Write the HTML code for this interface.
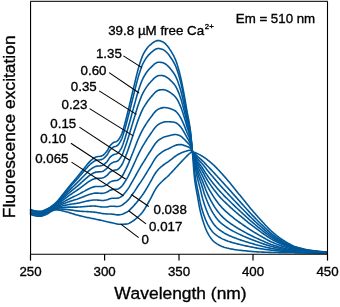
<!DOCTYPE html>
<html><head><meta charset="utf-8"><style>
html,body{margin:0;padding:0;background:#fff;width:340px;height:307px;overflow:hidden}
svg{display:block;will-change:transform}
text{font-kerning:none;font-family:"Liberation Sans",sans-serif;fill:#000;stroke:#000;stroke-width:0.35px}
</style></head><body>
<svg width="340" height="307" viewBox="0 0 340 307">
<g fill="none" stroke="#005899" stroke-width="1.6" stroke-linejoin="round">
<path d="M30,209.00 L31,209.48 L32,209.91 L33,210.29 L34,210.59 L35,210.80 L36,210.95 L37,211.09 L38,211.20 L39,211.27 L40,211.30 L41,211.23 L42,211.02 L43,210.71 L44,210.33 L45,209.90 L46,209.44 L47,209.00 L48,208.53 L49,207.98 L50,207.37 L51,206.70 L52,206.00 L53,205.24 L54,204.39 L55,203.48 L56,202.51 L57,201.50 L58,200.43 L59,199.27 L60,198.06 L61,196.80 L62,195.52 L63,194.25 L64,193.00 L65,191.76 L66,190.50 L67,189.24 L68,187.98 L69,186.73 L70,185.50 L71,184.29 L72,183.10 L73,181.92 L74,180.75 L75,179.58 L76,178.40 L77,177.21 L78,176.00 L79,174.77 L80,173.51 L81,172.24 L82,170.97 L83,169.71 L84,168.48 L85,167.27 L86,166.02 L87,164.77 L88,163.54 L89,162.39 L90,161.33 L91,160.41 L92,159.56 L93,158.74 L94,158.01 L95,157.41 L96,157.00 L97,156.75 L98,156.58 L99,156.45 L100,156.31 L101,156.12 L102,155.83 L103,155.29 L104,154.48 L105,153.47 L106,152.33 L107,151.10 L108,149.37 L109,147.42 L110,145.82 L111,144.70 L112,143.71 L113,142.90 L114,142.30 L115,141.94 L116,141.66 L117,141.24 L118,140.39 L119,139.07 L120,137.41 L121,135.50 L122,133.23 L123,130.16 L124,126.63 L125,123.00 L126,119.27 L127,115.29 L128,111.22 L129,107.14 L130,102.97 L131,98.74 L132,94.50 L133,90.30 L134,86.18 L135,81.99 L136,77.76 L137,73.65 L138,69.80 L139,66.34 L140,63.07 L141,59.97 L142,57.16 L143,54.79 L144,52.91 L145,51.21 L146,49.67 L147,48.29 L148,47.06 L149,46.00 L150,45.10 L151,44.28 L152,43.46 L153,42.69 L154,41.98 L155,41.38 L156,40.91 L157,40.61 L158,40.50 L159,40.58 L160,40.81 L161,41.14 L162,41.55 L163,42.00 L164,42.60 L165,43.44 L166,44.43 L167,45.50 L168,46.70 L169,48.08 L170,49.60 L171,51.20 L172,52.85 L173,54.59 L174,56.48 L175,58.60 L176,61.01 L177,63.88 L178,67.15 L179,70.75 L180,74.60 L181,78.84 L182,83.61 L183,88.73 L184,94.00 L185,99.54 L186,105.36 L186.5,108.27 L187,111.12 L187.5,113.79 L188,116.35 L188.5,118.92 L189,121.61 L189.5,124.54 L190,127.82 L190.5,131.61 L191,136.30 L191.5,141.68 L192,147.40 L192.5,153.16 L193,159.61 L193.5,166.47 L194,172.89 L194.5,178.00 L195,181.87 L195.5,185.23 L196,188.21 L196.5,190.96 L197,193.61 L197.5,196.31 L198,199.17 L198.5,202.09 L199,204.92 L199.5,207.50 L200,209.82 L200.5,211.99 L201,214.02 L201.5,215.93 L202,217.73 L202.5,219.44 L203,221.05 L203.5,222.60 L204,224.09 L204.5,225.54 L205,226.92 L205.5,228.20 L206,229.40 L206.5,230.53 L207,231.60 L207.5,232.60 L208,233.55 L208.5,234.46 L209,235.33 L209.5,236.15 L210,236.93 L210.5,237.66 L211,238.34 L211.5,238.99 L212,239.61 L212.5,240.19 L213,240.72 L213.5,241.20 L214,241.64 L214.5,242.06 L215,242.45 L216,243.18 L217,243.83 L218,244.43 L219,244.99 L220,245.51 L221,245.98 L222,246.40 L223,246.78 L224,247.14 L225,247.47 L226,247.76 L227,248.03 L228,248.27 L229,248.49 L230,248.70 L231,248.91 L232,249.11 L233,249.31 L234,249.49 L235,249.66 L236,249.80 L237,249.94 L238,250.06 L239,250.19 L240,250.30 L241,250.41 L242,250.52 L243,250.62 L244,250.72 L245,250.82 L246,250.91 L247,251.00 L248,251.10 L249,251.19 L250,251.28 L251,251.37 L252,251.46 L253,251.54 L254,251.62 L255,251.70 L256,251.77 L257,251.84 L258,251.90 L259,251.95 L260,252.00 L261,252.04 L262,252.09 L263,252.13 L264,252.17 L265,252.20 L266,252.24 L267,252.27 L268,252.31 L269,252.34 L270,252.37 L271,252.40 L272,252.43 L273,252.45 L274,252.48 L275,252.50 L276,252.52 L277,252.54 L278,252.56 L279,252.58 L280,252.60 L281,252.62 L282,252.63 L283,252.65 L284,252.67 L285,252.68 L286,252.70 L287,252.72 L288,252.73 L289,252.75 L290,252.76 L291,252.78 L292,252.79 L293,252.81 L294,252.82 L295,252.84 L296,252.85 L297,252.87 L298,252.88 L299,252.89 L300,252.91 L301,252.92 L302,252.93 L303,252.94 L304,252.95 L305,252.97 L306,252.98 L307,252.99 L308,253.00 L309,253.01 L310,253.02 L311,253.03 L312,253.03 L313,253.04 L314,253.05 L315,253.06 L316,253.06 L317,253.07 L318,253.08 L319,253.08 L320,253.08 L321,253.09 L322,253.09 L323,253.09 L324,253.10 L325,253.10 L326,253.10 L327,253.10"/><path d="M30,209.29 L31,209.76 L32,210.19 L33,210.57 L34,210.87 L35,211.07 L36,211.23 L37,211.36 L38,211.47 L39,211.55 L40,211.58 L41,211.50 L42,211.30 L43,210.99 L44,210.60 L45,210.17 L46,209.72 L47,209.28 L48,208.80 L49,208.25 L50,207.63 L51,206.97 L52,206.28 L53,205.53 L54,204.71 L55,203.83 L56,202.91 L57,201.96 L58,200.95 L59,199.87 L60,198.73 L61,197.55 L62,196.36 L63,195.17 L64,194.00 L65,192.84 L66,191.67 L67,190.49 L68,189.32 L69,188.15 L70,187.01 L71,185.88 L72,184.77 L73,183.68 L74,182.59 L75,181.49 L76,180.40 L77,179.29 L78,178.16 L79,177.01 L80,175.84 L81,174.65 L82,173.46 L83,172.29 L84,171.14 L85,170.00 L86,168.84 L87,167.66 L88,166.52 L89,165.44 L90,164.45 L91,163.59 L92,162.80 L93,162.04 L94,161.35 L95,160.80 L96,160.42 L97,160.20 L98,160.05 L99,159.94 L100,159.82 L101,159.65 L102,159.39 L103,158.89 L104,158.14 L105,157.20 L106,156.14 L107,154.99 L108,153.36 L109,151.54 L110,150.03 L111,148.98 L112,148.07 L113,147.31 L114,146.76 L115,146.43 L116,146.18 L117,145.79 L118,144.99 L119,143.75 L120,142.19 L121,140.39 L122,138.24 L123,135.34 L124,132.00 L125,128.56 L126,125.04 L127,121.27 L128,117.41 L129,113.53 L130,109.56 L131,105.53 L132,101.49 L133,97.49 L134,93.55 L135,89.55 L136,85.51 L137,81.58 L138,77.89 L139,74.57 L140,71.43 L141,68.44 L142,65.72 L143,63.41 L144,61.55 L145,59.86 L146,58.31 L147,56.91 L148,55.65 L149,54.55 L150,53.60 L151,52.72 L152,51.84 L153,51.00 L154,50.23 L155,49.56 L156,49.03 L157,48.66 L158,48.49 L159,48.50 L160,48.66 L161,48.92 L162,49.25 L163,49.62 L164,50.14 L165,50.88 L166,51.78 L167,52.74 L168,53.83 L169,55.08 L170,56.47 L171,57.93 L172,59.44 L173,61.03 L174,62.77 L175,64.72 L176,66.96 L177,69.63 L178,72.68 L179,76.06 L180,79.68 L181,83.66 L182,88.16 L183,92.98 L184,97.95 L185,103.17 L186,108.65 L186.5,111.39 L187,114.06 L187.5,116.57 L188,118.97 L188.5,121.37 L189,123.89 L189.5,126.62 L190,129.67 L190.5,133.18 L191,137.52 L191.5,142.49 L192,147.76 L192.5,152.34 L193,155.13 L193.5,159.35 L194,164.47 L194.5,169.79 L195,174.50 L195.5,178.10 L196,181.21 L196.5,183.98 L197,186.50 L197.5,188.90 L198,191.28 L198.5,193.78 L199,196.41 L199.5,199.01 L200,201.44 L200.5,203.61 L201,205.62 L201.5,207.50 L202,209.27 L202.5,210.94 L203,212.52 L203.5,214.01 L204,215.44 L204.5,216.82 L205,218.17 L205.5,219.45 L206,220.67 L206.5,221.80 L207,222.87 L207.5,223.89 L208,224.84 L208.5,225.74 L209,226.61 L209.5,227.44 L210,228.24 L210.5,228.99 L211,229.71 L211.5,230.37 L212,231.01 L212.5,231.62 L213,232.20 L213.5,232.74 L214,233.24 L214.5,233.69 L215,234.12 L216,234.93 L217,235.66 L218,236.34 L219,236.98 L220,237.57 L221,238.13 L222,238.66 L223,239.14 L224,239.59 L225,240.02 L226,240.42 L227,240.80 L228,241.16 L229,241.49 L230,241.81 L231,242.12 L232,242.43 L233,242.74 L234,243.04 L235,243.32 L236,243.59 L237,243.85 L238,244.10 L239,244.34 L240,244.57 L241,244.80 L242,245.03 L243,245.25 L244,245.46 L245,245.68 L246,245.89 L247,246.10 L248,246.32 L249,246.53 L250,246.73 L251,246.94 L252,247.14 L253,247.34 L254,247.53 L255,247.72 L256,247.91 L257,248.09 L258,248.26 L259,248.43 L260,248.59 L261,248.75 L262,248.90 L263,249.05 L264,249.20 L265,249.34 L266,249.49 L267,249.63 L268,249.77 L269,249.90 L270,250.03 L271,250.15 L272,250.27 L273,250.38 L274,250.50 L275,250.60 L276,250.71 L277,250.81 L278,250.91 L279,251.00 L280,251.09 L281,251.18 L282,251.27 L283,251.35 L284,251.43 L285,251.51 L286,251.59 L287,251.66 L288,251.73 L289,251.81 L290,251.88 L291,251.94 L292,252.01 L293,252.07 L294,252.12 L295,252.18 L296,252.22 L297,252.27 L298,252.31 L299,252.36 L300,252.40 L301,252.44 L302,252.48 L303,252.51 L304,252.55 L305,252.58 L306,252.61 L307,252.64 L308,252.67 L309,252.70 L310,252.72 L311,252.74 L312,252.77 L313,252.79 L314,252.81 L315,252.83 L316,252.85 L317,252.87 L318,252.88 L319,252.90 L320,252.92 L321,252.93 L322,252.94 L323,252.95 L324,252.96 L325,252.97 L326,252.97 L327,252.98"/><path d="M30,209.78 L31,210.25 L32,210.67 L33,211.05 L34,211.34 L35,211.55 L36,211.70 L37,211.84 L38,211.95 L39,212.02 L40,212.05 L41,211.98 L42,211.77 L43,211.46 L44,211.08 L45,210.65 L46,210.19 L47,209.75 L48,209.27 L49,208.71 L50,208.08 L51,207.42 L52,206.75 L53,206.04 L54,205.26 L55,204.44 L56,203.60 L57,202.75 L58,201.85 L59,200.89 L60,199.89 L61,198.86 L62,197.81 L63,196.76 L64,195.74 L65,194.72 L66,193.69 L67,192.65 L68,191.62 L69,190.61 L70,189.60 L71,188.62 L72,187.66 L73,186.71 L74,185.76 L75,184.81 L76,183.85 L77,182.88 L78,181.90 L79,180.89 L80,179.86 L81,178.82 L82,177.77 L83,176.74 L84,175.73 L85,174.73 L86,173.70 L87,172.67 L88,171.66 L89,170.70 L90,169.84 L91,169.09 L92,168.39 L93,167.73 L94,167.13 L95,166.66 L96,166.34 L97,166.16 L98,166.05 L99,165.96 L100,165.88 L101,165.75 L102,165.54 L103,165.11 L104,164.46 L105,163.64 L106,162.71 L107,161.70 L108,160.26 L109,158.64 L110,157.31 L111,156.39 L112,155.58 L113,154.93 L114,154.45 L115,154.18 L116,153.98 L117,153.65 L118,152.94 L119,151.84 L120,150.44 L121,148.82 L122,146.89 L123,144.28 L124,141.27 L125,138.17 L126,135.00 L127,131.60 L128,128.10 L129,124.57 L130,120.94 L131,117.26 L132,113.57 L133,109.90 L134,106.29 L135,102.61 L136,98.90 L137,95.28 L138,91.87 L139,88.79 L140,85.86 L141,83.06 L142,80.50 L143,78.30 L144,76.48 L145,74.80 L146,73.24 L147,71.80 L148,70.49 L149,69.32 L150,68.29 L151,67.31 L152,66.32 L153,65.37 L154,64.48 L155,63.69 L156,63.05 L157,62.57 L158,62.28 L159,62.18 L160,62.21 L161,62.34 L162,62.54 L163,62.78 L164,63.15 L165,63.73 L166,64.45 L167,65.23 L168,66.12 L169,67.15 L170,68.29 L171,69.49 L172,70.74 L173,72.05 L174,73.51 L175,75.15 L176,77.06 L177,79.34 L178,81.98 L179,84.90 L180,88.04 L181,91.51 L182,95.44 L183,99.67 L184,104.02 L185,108.61 L186,113.43 L186.5,115.83 L187,118.18 L187.5,120.38 L188,122.49 L188.5,124.61 L189,126.83 L189.5,129.25 L190,131.96 L190.5,135.08 L191,138.96 L191.5,143.42 L192,148.16 L192.5,152.28 L193,154.01 L193.5,156.20 L194,158.82 L194.5,161.79 L195,164.99 L195.5,168.25 L196,171.32 L196.5,173.95 L197,176.24 L197.5,178.38 L198,180.40 L198.5,182.30 L199,184.15 L199.5,185.97 L200,187.83 L200.5,189.80 L201,191.91 L201.5,194.05 L202,196.14 L202.5,198.09 L203,199.88 L203.5,201.57 L204,203.18 L204.5,204.72 L205,206.19 L205.5,207.60 L206,208.94 L206.5,210.23 L207,211.49 L207.5,212.72 L208,213.91 L208.5,215.05 L209,216.12 L209.5,217.13 L210,218.09 L210.5,219.01 L211,219.87 L211.5,220.70 L212,221.51 L212.5,222.28 L213,223.03 L213.5,223.73 L214,224.40 L214.5,225.03 L215,225.64 L216,226.78 L217,227.78 L218,228.67 L219,229.48 L220,230.24 L221,230.94 L222,231.61 L223,232.25 L224,232.86 L225,233.43 L226,233.97 L227,234.49 L228,234.98 L229,235.46 L230,235.91 L231,236.34 L232,236.75 L233,237.15 L234,237.55 L235,237.95 L236,238.34 L237,238.73 L238,239.09 L239,239.45 L240,239.79 L241,240.12 L242,240.46 L243,240.78 L244,241.10 L245,241.42 L246,241.73 L247,242.04 L248,242.35 L249,242.66 L250,242.96 L251,243.25 L252,243.55 L253,243.84 L254,244.13 L255,244.41 L256,244.69 L257,244.97 L258,245.24 L259,245.51 L260,245.77 L261,246.03 L262,246.28 L263,246.52 L264,246.76 L265,247.00 L266,247.23 L267,247.46 L268,247.68 L269,247.90 L270,248.10 L271,248.30 L272,248.50 L273,248.69 L274,248.87 L275,249.05 L276,249.22 L277,249.39 L278,249.55 L279,249.71 L280,249.86 L281,250.01 L282,250.15 L283,250.29 L284,250.42 L285,250.55 L286,250.67 L287,250.79 L288,250.91 L289,251.03 L290,251.14 L291,251.25 L292,251.36 L293,251.45 L294,251.54 L295,251.62 L296,251.70 L297,251.77 L298,251.84 L299,251.91 L300,251.97 L301,252.03 L302,252.09 L303,252.15 L304,252.20 L305,252.25 L306,252.30 L307,252.35 L308,252.39 L309,252.43 L310,252.47 L311,252.50 L312,252.54 L313,252.57 L314,252.60 L315,252.63 L316,252.66 L317,252.69 L318,252.72 L319,252.75 L320,252.77 L321,252.79 L322,252.81 L323,252.83 L324,252.84 L325,252.86 L326,252.87 L327,252.87"/><path d="M30,210.26 L31,210.73 L32,211.15 L33,211.51 L34,211.81 L35,212.02 L36,212.17 L37,212.30 L38,212.41 L39,212.49 L40,212.52 L41,212.44 L42,212.24 L43,211.93 L44,211.54 L45,211.11 L46,210.66 L47,210.21 L48,209.73 L49,209.16 L50,208.53 L51,207.87 L52,207.22 L53,206.54 L54,205.80 L55,205.04 L56,204.28 L57,203.53 L58,202.74 L59,201.90 L60,201.03 L61,200.13 L62,199.23 L63,198.32 L64,197.44 L65,196.56 L66,195.66 L67,194.77 L68,193.88 L69,193.01 L70,192.15 L71,191.31 L72,190.49 L73,189.67 L74,188.86 L75,188.05 L76,187.23 L77,186.40 L78,185.56 L79,184.69 L80,183.80 L81,182.89 L82,181.99 L83,181.10 L84,180.22 L85,179.35 L86,178.46 L87,177.56 L88,176.69 L89,175.86 L90,175.11 L91,174.46 L92,173.87 L93,173.30 L94,172.79 L95,172.39 L96,172.13 L97,171.99 L98,171.91 L99,171.86 L100,171.81 L101,171.72 L102,171.56 L103,171.20 L104,170.65 L105,169.95 L106,169.14 L107,168.27 L108,167.01 L109,165.59 L110,164.43 L111,163.63 L112,162.94 L113,162.38 L114,161.98 L115,161.77 L116,161.61 L117,161.34 L118,160.73 L119,159.76 L120,158.52 L121,157.08 L122,155.36 L123,153.03 L124,150.34 L125,147.58 L126,144.74 L127,141.71 L128,138.57 L129,135.38 L130,132.09 L131,128.74 L132,125.39 L133,122.06 L134,118.76 L135,115.40 L136,112.01 L137,108.69 L138,105.55 L139,102.70 L140,99.99 L141,97.37 L142,94.97 L143,92.87 L144,91.09 L145,89.42 L146,87.85 L147,86.37 L148,85.01 L149,83.79 L150,82.67 L151,81.58 L152,80.49 L153,79.43 L154,78.43 L155,77.53 L156,76.77 L157,76.18 L158,75.79 L159,75.57 L160,75.48 L161,75.48 L162,75.56 L163,75.66 L164,75.89 L165,76.31 L166,76.86 L167,77.46 L168,78.15 L169,78.96 L170,79.86 L171,80.82 L172,81.80 L173,82.86 L174,84.03 L175,85.37 L176,86.95 L177,88.87 L178,91.09 L179,93.58 L180,96.26 L181,99.23 L182,102.62 L183,106.27 L184,110.03 L185,114.00 L186,118.18 L186.5,120.26 L187,122.30 L187.5,124.20 L188,126.02 L188.5,127.86 L189,129.79 L189.5,131.91 L190,134.27 L190.5,137.01 L191,140.43 L191.5,144.36 L192,148.58 L192.5,152.23 L193,153.67 L193.5,155.37 L194,157.31 L194.5,159.46 L195,161.76 L195.5,164.15 L196,166.54 L196.5,168.83 L197,170.89 L197.5,172.65 L198,174.32 L198.5,175.91 L199,177.42 L199.5,178.88 L200,180.29 L200.5,181.68 L201,183.08 L201.5,184.53 L202,186.05 L202.5,187.67 L203,189.35 L203.5,191.02 L204,192.64 L204.5,194.15 L205,195.58 L205.5,196.95 L206,198.28 L206.5,199.55 L207,200.79 L207.5,201.99 L208,203.14 L208.5,204.26 L209,205.35 L209.5,206.42 L210,207.47 L210.5,208.50 L211,209.49 L211.5,210.44 L212,211.34 L212.5,212.21 L213,213.05 L213.5,213.86 L214,214.62 L214.5,215.37 L215,216.10 L216,217.50 L217,218.79 L218,219.99 L219,221.11 L220,222.12 L221,223.02 L222,223.87 L223,224.66 L224,225.42 L225,226.15 L226,226.85 L227,227.53 L228,228.18 L229,228.81 L230,229.41 L231,230.00 L232,230.56 L233,231.11 L234,231.63 L235,232.14 L236,232.64 L237,233.13 L238,233.62 L239,234.10 L240,234.58 L241,235.05 L242,235.50 L243,235.95 L244,236.38 L245,236.81 L246,237.24 L247,237.66 L248,238.08 L249,238.49 L250,238.90 L251,239.30 L252,239.69 L253,240.08 L254,240.46 L255,240.84 L256,241.22 L257,241.60 L258,241.97 L259,242.34 L260,242.71 L261,243.07 L262,243.42 L263,243.77 L264,244.12 L265,244.46 L266,244.79 L267,245.12 L268,245.43 L269,245.74 L270,246.03 L271,246.31 L272,246.59 L273,246.85 L274,247.12 L275,247.37 L276,247.62 L277,247.85 L278,248.08 L279,248.31 L280,248.53 L281,248.74 L282,248.94 L283,249.14 L284,249.33 L285,249.52 L286,249.69 L287,249.86 L288,250.03 L289,250.20 L290,250.36 L291,250.51 L292,250.66 L293,250.79 L294,250.92 L295,251.03 L296,251.13 L297,251.23 L298,251.33 L299,251.42 L300,251.51 L301,251.60 L302,251.68 L303,251.76 L304,251.83 L305,251.90 L306,251.97 L307,252.03 L308,252.09 L309,252.14 L310,252.19 L311,252.24 L312,252.29 L313,252.33 L314,252.38 L315,252.42 L316,252.46 L317,252.50 L318,252.54 L319,252.58 L320,252.61 L321,252.64 L322,252.67 L323,252.69 L324,252.72 L325,252.74 L326,252.75 L327,252.76"/><path d="M30,210.79 L31,211.24 L32,211.66 L33,212.02 L34,212.32 L35,212.52 L36,212.67 L37,212.81 L38,212.92 L39,212.99 L40,213.02 L41,212.95 L42,212.74 L43,212.43 L44,212.05 L45,211.62 L46,211.16 L47,210.72 L48,210.23 L49,209.65 L50,209.01 L51,208.35 L52,207.72 L53,207.08 L54,206.39 L55,205.69 L56,205.02 L57,204.37 L58,203.70 L59,202.99 L60,202.26 L61,201.52 L62,200.76 L63,200.02 L64,199.28 L65,198.55 L66,197.81 L67,197.07 L68,196.34 L69,195.62 L70,194.91 L71,194.23 L72,193.56 L73,192.89 L74,192.23 L75,191.57 L76,190.90 L77,190.23 L78,189.53 L79,188.81 L80,188.07 L81,187.32 L82,186.57 L83,185.83 L84,185.10 L85,184.37 L86,183.63 L87,182.88 L88,182.15 L89,181.46 L90,180.84 L91,180.30 L92,179.81 L93,179.34 L94,178.93 L95,178.61 L96,178.41 L97,178.32 L98,178.28 L99,178.27 L100,178.25 L101,178.21 L102,178.10 L103,177.82 L104,177.37 L105,176.79 L106,176.13 L107,175.40 L108,174.34 L109,173.15 L110,172.16 L111,171.50 L112,170.93 L113,170.48 L114,170.17 L115,170.01 L116,169.90 L117,169.69 L118,169.18 L119,168.36 L120,167.29 L121,166.05 L122,164.56 L123,162.53 L124,160.20 L125,157.80 L126,155.33 L127,152.69 L128,149.94 L129,147.12 L130,144.20 L131,141.21 L132,138.22 L133,135.25 L134,132.31 L135,129.29 L136,126.24 L137,123.25 L138,120.41 L139,117.82 L140,115.33 L141,112.92 L142,110.68 L143,108.69 L144,106.96 L145,105.31 L146,103.71 L147,102.20 L148,100.79 L149,99.49 L150,98.28 L151,97.09 L152,95.88 L153,94.69 L154,93.57 L155,92.55 L156,91.67 L157,90.97 L158,90.46 L159,90.11 L160,89.89 L161,89.76 L162,89.69 L163,89.65 L164,89.72 L165,89.97 L166,90.33 L167,90.74 L168,91.21 L169,91.78 L170,92.42 L171,93.11 L172,93.82 L173,94.58 L174,95.44 L175,96.46 L176,97.68 L177,99.19 L178,100.97 L179,102.97 L180,105.14 L181,107.57 L182,110.35 L183,113.36 L184,116.48 L185,119.77 L186,123.24 L186.5,124.97 L187,126.66 L187.5,128.23 L188,129.74 L188.5,131.27 L189,132.90 L189.5,134.68 L190,136.68 L190.5,139.01 L191,141.94 L191.5,145.34 L192,149.00 L192.5,152.19 L193,153.42 L193.5,154.84 L194,156.42 L194.5,158.14 L195,159.97 L195.5,161.86 L196,163.78 L196.5,165.65 L197,167.42 L197.5,169.02 L198,170.42 L198.5,171.75 L199,173.03 L199.5,174.26 L200,175.45 L200.5,176.60 L201,177.74 L201.5,178.86 L202,180.00 L202.5,181.17 L203,182.39 L203.5,183.68 L204,185.03 L204.5,186.39 L205,187.75 L205.5,189.06 L206,190.29 L206.5,191.47 L207,192.62 L207.5,193.73 L208,194.82 L208.5,195.87 L209,196.90 L209.5,197.90 L210,198.87 L210.5,199.82 L211,200.76 L211.5,201.68 L212,202.59 L212.5,203.49 L213,204.36 L213.5,205.21 L214,206.03 L214.5,206.82 L215,207.59 L216,209.06 L217,210.45 L218,211.79 L219,213.06 L220,214.25 L221,215.37 L222,216.44 L223,217.42 L224,218.32 L225,219.19 L226,220.01 L227,220.81 L228,221.59 L229,222.36 L230,223.10 L231,223.82 L232,224.52 L233,225.20 L234,225.86 L235,226.51 L236,227.14 L237,227.76 L238,228.36 L239,228.94 L240,229.52 L241,230.09 L242,230.66 L243,231.23 L244,231.79 L245,232.34 L246,232.89 L247,233.42 L248,233.95 L249,234.47 L250,234.98 L251,235.48 L252,235.97 L253,236.46 L254,236.94 L255,237.41 L256,237.88 L257,238.35 L258,238.82 L259,239.28 L260,239.73 L261,240.19 L262,240.63 L263,241.08 L264,241.52 L265,241.96 L266,242.40 L267,242.83 L268,243.24 L269,243.64 L270,244.02 L271,244.38 L272,244.73 L273,245.08 L274,245.41 L275,245.74 L276,246.06 L277,246.36 L278,246.66 L279,246.95 L280,247.23 L281,247.50 L282,247.77 L283,248.03 L284,248.27 L285,248.51 L286,248.74 L287,248.96 L288,249.18 L289,249.39 L290,249.60 L291,249.80 L292,249.98 L293,250.16 L294,250.31 L295,250.46 L296,250.59 L297,250.71 L298,250.83 L299,250.95 L300,251.06 L301,251.17 L302,251.28 L303,251.38 L304,251.47 L305,251.56 L306,251.64 L307,251.72 L308,251.80 L309,251.86 L310,251.93 L311,251.99 L312,252.04 L313,252.10 L314,252.16 L315,252.21 L316,252.27 L317,252.32 L318,252.36 L319,252.41 L320,252.45 L321,252.49 L322,252.53 L323,252.56 L324,252.59 L325,252.61 L326,252.63 L327,252.65"/><path d="M30,211.46 L31,211.91 L32,212.32 L33,212.68 L34,212.97 L35,213.17 L36,213.32 L37,213.46 L38,213.57 L39,213.64 L40,213.67 L41,213.60 L42,213.39 L43,213.08 L44,212.70 L45,212.27 L46,211.81 L47,211.37 L48,210.87 L49,210.27 L50,209.63 L51,208.98 L52,208.37 L53,207.77 L54,207.14 L55,206.53 L56,205.96 L57,205.45 L58,204.93 L59,204.40 L60,203.85 L61,203.30 L62,202.75 L63,202.20 L64,201.66 L65,201.12 L66,200.57 L67,200.03 L68,199.49 L69,198.98 L70,198.47 L71,197.98 L72,197.51 L73,197.04 L74,196.57 L75,196.10 L76,195.63 L77,195.14 L78,194.64 L79,194.12 L80,193.58 L81,193.02 L82,192.47 L83,191.92 L84,191.37 L85,190.84 L86,190.28 L87,189.72 L88,189.18 L89,188.66 L90,188.21 L91,187.82 L92,187.47 L93,187.13 L94,186.84 L95,186.62 L96,186.50 L97,186.47 L98,186.48 L99,186.52 L100,186.55 L101,186.55 L102,186.51 L103,186.34 L104,186.03 L105,185.61 L106,185.13 L107,184.59 L108,183.78 L109,182.87 L110,182.12 L111,181.63 L112,181.22 L113,180.90 L114,180.70 L115,180.61 L116,180.57 L117,180.44 L118,180.06 L119,179.43 L120,178.59 L121,177.59 L122,176.39 L123,174.77 L124,172.88 L125,170.95 L126,168.95 L127,166.82 L128,164.58 L129,162.23 L130,159.78 L131,157.26 L132,154.75 L133,152.24 L134,149.74 L135,147.17 L136,144.56 L137,141.99 L138,139.54 L139,137.27 L140,135.08 L141,132.93 L142,130.91 L143,129.06 L144,127.39 L145,125.75 L146,124.14 L147,122.58 L148,121.09 L149,119.71 L150,118.38 L151,117.05 L152,115.69 L153,114.35 L154,113.07 L155,111.89 L156,110.85 L157,110.00 L158,109.34 L159,108.83 L160,108.43 L161,108.13 L162,107.87 L163,107.65 L164,107.52 L165,107.55 L166,107.67 L167,107.83 L168,108.03 L169,108.29 L170,108.60 L171,108.94 L172,109.29 L173,109.68 L174,110.15 L175,110.75 L176,111.51 L177,112.51 L178,113.72 L179,115.11 L180,116.64 L181,118.37 L182,120.39 L183,122.60 L184,124.89 L185,127.33 L186,129.89 L186.5,131.17 L187,132.42 L187.5,133.58 L188,134.70 L188.5,135.84 L189,137.06 L189.5,138.41 L190,139.93 L190.5,141.72 L191,144.00 L191.5,146.68 L192,149.58 L192.5,152.13 L193,153.13 L193.5,154.27 L194,155.55 L194.5,156.93 L195,158.40 L195.5,159.92 L196,161.46 L196.5,162.96 L197,164.41 L197.5,165.73 L198,166.89 L198.5,167.99 L199,169.05 L199.5,170.08 L200,171.06 L200.5,172.02 L201,172.97 L201.5,173.90 L202,174.84 L202.5,175.80 L203,176.78 L203.5,177.81 L204,178.89 L204.5,180.01 L205,181.14 L205.5,182.26 L206,183.35 L206.5,184.38 L207,185.38 L207.5,186.35 L208,187.30 L208.5,188.22 L209,189.13 L209.5,190.02 L210,190.89 L210.5,191.74 L211,192.57 L211.5,193.39 L212,194.20 L212.5,195.00 L213,195.80 L213.5,196.59 L214,197.36 L214.5,198.11 L215,198.83 L216,200.24 L217,201.59 L218,202.89 L219,204.16 L220,205.37 L221,206.51 L222,207.62 L223,208.68 L224,209.68 L225,210.62 L226,211.54 L227,212.43 L228,213.31 L229,214.17 L230,215.02 L231,215.86 L232,216.67 L233,217.47 L234,218.26 L235,219.04 L236,219.80 L237,220.55 L238,221.29 L239,222.01 L240,222.73 L241,223.43 L242,224.13 L243,224.83 L244,225.52 L245,226.22 L246,226.91 L247,227.60 L248,228.27 L249,228.93 L250,229.58 L251,230.22 L252,230.85 L253,231.47 L254,232.09 L255,232.69 L256,233.30 L257,233.90 L258,234.49 L259,235.08 L260,235.67 L261,236.25 L262,236.82 L263,237.39 L264,237.96 L265,238.53 L266,239.10 L267,239.65 L268,240.18 L269,240.70 L270,241.20 L271,241.68 L272,242.15 L273,242.60 L274,243.04 L275,243.47 L276,243.88 L277,244.28 L278,244.67 L279,245.05 L280,245.42 L281,245.78 L282,246.13 L283,246.47 L284,246.79 L285,247.11 L286,247.41 L287,247.70 L288,247.99 L289,248.27 L290,248.54 L291,248.80 L292,249.05 L293,249.28 L294,249.49 L295,249.67 L296,249.84 L297,250.01 L298,250.17 L299,250.32 L300,250.47 L301,250.61 L302,250.74 L303,250.87 L304,250.99 L305,251.11 L306,251.21 L307,251.32 L308,251.41 L309,251.50 L310,251.58 L311,251.65 L312,251.73 L313,251.80 L314,251.88 L315,251.95 L316,252.01 L317,252.08 L318,252.14 L319,252.20 L320,252.25 L321,252.30 L322,252.35 L323,252.39 L324,252.42 L325,252.45 L326,252.48 L327,252.49"/><path d="M30,212.02 L31,212.46 L32,212.86 L33,213.21 L34,213.50 L35,213.70 L36,213.85 L37,213.99 L38,214.10 L39,214.17 L40,214.20 L41,214.13 L42,213.92 L43,213.61 L44,213.23 L45,212.80 L46,212.34 L47,211.90 L48,211.40 L49,210.79 L50,210.13 L51,209.48 L52,208.90 L53,208.34 L54,207.76 L55,207.21 L56,206.74 L57,206.33 L58,205.94 L59,205.55 L60,205.15 L61,204.75 L62,204.36 L63,203.97 L64,203.59 L65,203.21 L66,202.82 L67,202.44 L68,202.07 L69,201.71 L70,201.37 L71,201.05 L72,200.73 L73,200.42 L74,200.11 L75,199.80 L76,199.48 L77,199.16 L78,198.81 L79,198.45 L80,198.07 L81,197.67 L82,197.27 L83,196.88 L84,196.49 L85,196.11 L86,195.71 L87,195.30 L88,194.91 L89,194.54 L90,194.22 L91,193.95 L92,193.71 L93,193.48 L94,193.29 L95,193.16 L96,193.10 L97,193.12 L98,193.17 L99,193.24 L100,193.31 L101,193.36 L102,193.37 L103,193.28 L104,193.08 L105,192.80 L106,192.46 L107,192.08 L108,191.48 L109,190.79 L110,190.24 L111,189.89 L112,189.61 L113,189.40 L114,189.28 L115,189.26 L116,189.27 L117,189.20 L118,188.93 L119,188.45 L120,187.79 L121,187.00 L122,186.04 L123,184.74 L124,183.23 L125,181.67 L126,180.06 L127,178.34 L128,176.51 L129,174.55 L130,172.48 L131,170.35 L132,168.22 L133,166.09 L134,163.95 L135,161.74 L136,159.50 L137,157.27 L138,155.14 L139,153.13 L140,151.18 L141,149.25 L142,147.40 L143,145.67 L144,144.05 L145,142.42 L146,140.79 L147,139.19 L148,137.65 L149,136.19 L150,134.77 L151,133.32 L152,131.84 L153,130.37 L154,128.96 L155,127.66 L156,126.49 L157,125.52 L158,124.73 L159,124.09 L160,123.56 L161,123.11 L162,122.71 L163,122.33 L164,122.05 L165,121.89 L166,121.82 L167,121.78 L168,121.75 L169,121.77 L170,121.81 L171,121.87 L172,121.93 L173,122.03 L174,122.19 L175,122.46 L176,122.86 L177,123.45 L178,124.22 L179,125.13 L180,126.16 L181,127.36 L182,128.79 L183,130.37 L184,132.02 L185,133.79 L186,135.65 L186.5,136.58 L187,137.47 L187.5,138.30 L188,139.10 L188.5,139.92 L189,140.81 L189.5,141.80 L190,142.91 L190.5,144.23 L191,145.93 L191.5,147.94 L192,150.13 L192.5,152.08 L193,152.86 L193.5,153.77 L194,154.81 L194.5,155.94 L195,157.14 L195.5,158.38 L196,159.63 L196.5,160.84 L197,161.99 L197.5,163.03 L198,163.96 L198.5,164.85 L199,165.72 L199.5,166.56 L200,167.37 L200.5,168.16 L201,168.95 L201.5,169.75 L202,170.56 L202.5,171.39 L203,172.27 L203.5,173.19 L204,174.14 L204.5,175.10 L205,176.04 L205.5,176.95 L206,177.81 L206.5,178.66 L207,179.49 L207.5,180.31 L208,181.11 L208.5,181.89 L209,182.67 L209.5,183.42 L210,184.17 L210.5,184.90 L211,185.63 L211.5,186.35 L212,187.07 L212.5,187.78 L213,188.47 L213.5,189.15 L214,189.81 L214.5,190.47 L215,191.11 L216,192.36 L217,193.59 L218,194.80 L219,195.97 L220,197.10 L221,198.19 L222,199.24 L223,200.25 L224,201.23 L225,202.19 L226,203.14 L227,204.08 L228,205.02 L229,205.95 L230,206.88 L231,207.80 L232,208.70 L233,209.59 L234,210.48 L235,211.36 L236,212.24 L237,213.10 L238,213.95 L239,214.80 L240,215.64 L241,216.48 L242,217.32 L243,218.16 L244,218.99 L245,219.82 L246,220.65 L247,221.47 L248,222.28 L249,223.09 L250,223.88 L251,224.66 L252,225.44 L253,226.20 L254,226.96 L255,227.71 L256,228.45 L257,229.19 L258,229.93 L259,230.66 L260,231.39 L261,232.10 L262,232.81 L263,233.52 L264,234.23 L265,234.93 L266,235.63 L267,236.31 L268,236.97 L269,237.62 L270,238.23 L271,238.82 L272,239.40 L273,239.97 L274,240.52 L275,241.05 L276,241.57 L277,242.08 L278,242.56 L279,243.04 L280,243.50 L281,243.95 L282,244.39 L283,244.82 L284,245.23 L285,245.62 L286,246.00 L287,246.36 L288,246.72 L289,247.08 L290,247.42 L291,247.75 L292,248.06 L293,248.35 L294,248.61 L295,248.85 L296,249.06 L297,249.27 L298,249.47 L299,249.66 L300,249.84 L301,250.02 L302,250.19 L303,250.35 L304,250.50 L305,250.64 L306,250.78 L307,250.90 L308,251.02 L309,251.13 L310,251.23 L311,251.32 L312,251.41 L313,251.50 L314,251.59 L315,251.68 L316,251.76 L317,251.84 L318,251.91 L319,251.99 L320,252.05 L321,252.11 L322,252.17 L323,252.22 L324,252.26 L325,252.30 L326,252.32 L327,252.34"/><path d="M30,212.59 L31,213.02 L32,213.42 L33,213.77 L34,214.05 L35,214.25 L36,214.40 L37,214.54 L38,214.65 L39,214.72 L40,214.75 L41,214.68 L42,214.47 L43,214.16 L44,213.78 L45,213.35 L46,212.89 L47,212.45 L48,211.94 L49,211.32 L50,210.66 L51,210.01 L52,209.45 L53,208.93 L54,208.40 L55,207.92 L56,207.54 L57,207.25 L58,206.99 L59,206.74 L60,206.49 L61,206.26 L62,206.04 L63,205.82 L64,205.60 L65,205.38 L66,205.15 L67,204.94 L68,204.74 L69,204.56 L70,204.38 L71,204.22 L72,204.07 L73,203.93 L74,203.78 L75,203.64 L76,203.48 L77,203.32 L78,203.14 L79,202.94 L80,202.72 L81,202.50 L82,202.26 L83,202.03 L84,201.80 L85,201.58 L86,201.34 L87,201.09 L88,200.86 L89,200.64 L90,200.45 L91,200.31 L92,200.18 L93,200.07 L94,199.98 L95,199.93 L96,199.95 L97,200.02 L98,200.11 L99,200.22 L100,200.32 L101,200.42 L102,200.49 L103,200.49 L104,200.40 L105,200.26 L106,200.07 L107,199.85 L108,199.47 L109,199.02 L110,198.66 L111,198.46 L112,198.31 L113,198.22 L114,198.19 L115,198.24 L116,198.30 L117,198.30 L118,198.14 L119,197.82 L120,197.35 L121,196.77 L122,196.06 L123,195.09 L124,193.96 L125,192.80 L126,191.59 L127,190.30 L128,188.89 L129,187.34 L130,185.67 L131,183.93 L132,182.20 L133,180.46 L134,178.70 L135,176.87 L136,175.00 L137,173.13 L138,171.32 L139,169.60 L140,167.89 L141,166.18 L142,164.51 L143,162.91 L144,161.33 L145,159.71 L146,158.07 L147,156.43 L148,154.83 L149,153.29 L150,151.78 L151,150.21 L152,148.60 L153,147.00 L154,145.46 L155,144.02 L156,142.72 L157,141.62 L158,140.70 L159,139.93 L160,139.25 L161,138.65 L162,138.10 L163,137.57 L164,137.11 L165,136.77 L166,136.49 L167,136.23 L168,135.98 L169,135.74 L170,135.49 L171,135.25 L172,135.01 L173,134.79 L174,134.62 L175,134.52 L176,134.53 L177,134.68 L178,134.95 L179,135.33 L180,135.80 L181,136.40 L182,137.17 L183,138.05 L184,138.99 L185,140.01 L186,141.10 L186.5,141.64 L187,142.16 L187.5,142.63 L188,143.09 L188.5,143.57 L189,144.13 L189.5,144.75 L190,145.47 L190.5,146.35 L191,147.53 L191.5,148.97 L192,150.58 L192.5,152.04 L193,152.64 L193.5,153.36 L194,154.19 L194.5,155.10 L195,156.08 L195.5,157.09 L196,158.10 L196.5,159.08 L197,160.02 L197.5,160.87 L198,161.65 L198.5,162.40 L199,163.14 L199.5,163.85 L200,164.55 L200.5,165.23 L201,165.92 L201.5,166.60 L202,167.31 L202.5,168.04 L203,168.80 L203.5,169.60 L204,170.42 L204.5,171.24 L205,172.05 L205.5,172.83 L206,173.58 L206.5,174.33 L207,175.06 L207.5,175.78 L208,176.49 L208.5,177.19 L209,177.88 L209.5,178.56 L210,179.23 L210.5,179.89 L211,180.55 L211.5,181.21 L212,181.87 L212.5,182.52 L213,183.16 L213.5,183.78 L214,184.40 L214.5,185.01 L215,185.61 L216,186.80 L217,187.98 L218,189.15 L219,190.29 L220,191.40 L221,192.48 L222,193.54 L223,194.56 L224,195.57 L225,196.57 L226,197.56 L227,198.55 L228,199.54 L229,200.54 L230,201.53 L231,202.51 L232,203.48 L233,204.44 L234,205.41 L235,206.37 L236,207.32 L237,208.27 L238,209.21 L239,210.14 L240,211.07 L241,212.00 L242,212.93 L243,213.85 L244,214.78 L245,215.70 L246,216.62 L247,217.53 L248,218.44 L249,219.34 L250,220.23 L251,221.11 L252,221.97 L253,222.83 L254,223.67 L255,224.51 L256,225.35 L257,226.18 L258,227.01 L259,227.83 L260,228.64 L261,229.44 L262,230.24 L263,231.03 L264,231.83 L265,232.62 L266,233.40 L267,234.16 L268,234.91 L269,235.63 L270,236.33 L271,237.00 L272,237.65 L273,238.29 L274,238.91 L275,239.51 L276,240.10 L277,240.67 L278,241.22 L279,241.75 L280,242.28 L281,242.79 L282,243.28 L283,243.76 L284,244.23 L285,244.67 L286,245.09 L287,245.51 L288,245.92 L289,246.32 L290,246.71 L291,247.08 L292,247.43 L293,247.76 L294,248.05 L295,248.32 L296,248.56 L297,248.79 L298,249.02 L299,249.23 L300,249.44 L301,249.64 L302,249.83 L303,250.01 L304,250.18 L305,250.34 L306,250.49 L307,250.63 L308,250.76 L309,250.88 L310,251.00 L311,251.10 L312,251.20 L313,251.30 L314,251.40 L315,251.50 L316,251.59 L317,251.68 L318,251.77 L319,251.85 L320,251.92 L321,251.99 L322,252.05 L323,252.10 L324,252.15 L325,252.19 L326,252.22 L327,252.24"/><path d="M30,213.11 L31,213.54 L32,213.93 L33,214.27 L34,214.55 L35,214.75 L36,214.90 L37,215.04 L38,215.15 L39,215.22 L40,215.25 L41,215.18 L42,214.97 L43,214.66 L44,214.28 L45,213.85 L46,213.39 L47,212.95 L48,212.44 L49,211.81 L50,211.13 L51,210.49 L52,209.95 L53,209.47 L54,208.98 L55,208.56 L56,208.27 L57,208.09 L58,207.94 L59,207.82 L60,207.72 L61,207.63 L62,207.56 L63,207.49 L64,207.43 L65,207.35 L66,207.28 L67,207.22 L68,207.17 L69,207.14 L70,207.12 L71,207.11 L72,207.11 L73,207.12 L74,207.12 L75,207.12 L76,207.12 L77,207.10 L78,207.07 L79,207.02 L80,206.96 L81,206.88 L82,206.80 L83,206.72 L84,206.63 L85,206.55 L86,206.46 L87,206.36 L88,206.27 L89,206.18 L90,206.12 L91,206.09 L92,206.07 L93,206.06 L94,206.06 L95,206.10 L96,206.17 L97,206.29 L98,206.42 L99,206.56 L100,206.70 L101,206.84 L102,206.97 L103,207.04 L104,207.06 L105,207.04 L106,206.99 L107,206.91 L108,206.73 L109,206.49 L110,206.32 L111,206.25 L112,206.22 L113,206.24 L114,206.29 L115,206.40 L116,206.51 L117,206.57 L118,206.51 L119,206.33 L120,206.04 L121,205.65 L122,205.17 L123,204.50 L124,203.72 L125,202.91 L126,202.07 L127,201.17 L128,200.15 L129,198.96 L130,197.65 L131,196.28 L132,194.91 L133,193.53 L134,192.11 L135,190.62 L136,189.09 L137,187.55 L138,186.03 L139,184.56 L140,183.08 L141,181.58 L142,180.07 L143,178.57 L144,177.05 L145,175.44 L146,173.78 L147,172.10 L148,170.45 L149,168.84 L150,167.24 L151,165.56 L152,163.84 L153,162.12 L154,160.46 L155,158.89 L156,157.48 L157,156.26 L158,155.23 L159,154.32 L160,153.52 L161,152.78 L162,152.09 L163,151.41 L164,150.81 L165,150.29 L166,149.83 L167,149.38 L168,148.91 L169,148.43 L170,147.93 L171,147.42 L172,146.90 L173,146.39 L174,145.92 L175,145.50 L176,145.15 L177,144.90 L178,144.72 L179,144.63 L180,144.59 L181,144.65 L182,144.82 L183,145.08 L184,145.37 L185,145.72 L186,146.11 L186.5,146.30 L187,146.47 L187.5,146.62 L188,146.77 L188.5,146.95 L189,147.20 L189.5,147.50 L190,147.86 L190.5,148.33 L191,149.03 L191.5,149.94 L192,150.99 L192.5,151.99 L193,152.42 L193.5,152.95 L194,153.55 L194.5,154.21 L195,154.92 L195.5,155.65 L196,156.37 L196.5,157.09 L197,157.79 L197.5,158.46 L198,159.08 L198.5,159.67 L199,160.24 L199.5,160.81 L200,161.37 L200.5,161.91 L201,162.46 L201.5,163.01 L202,163.56 L202.5,164.12 L203,164.70 L203.5,165.29 L204,165.91 L204.5,166.55 L205,167.21 L205.5,167.86 L206,168.52 L206.5,169.17 L207,169.80 L207.5,170.43 L208,171.05 L208.5,171.66 L209,172.28 L209.5,172.88 L210,173.48 L210.5,174.08 L211,174.67 L211.5,175.26 L212,175.85 L212.5,176.44 L213,177.03 L213.5,177.62 L214,178.22 L214.5,178.81 L215,179.39 L216,180.55 L217,181.72 L218,182.87 L219,184.03 L220,185.16 L221,186.28 L222,187.39 L223,188.49 L224,189.58 L225,190.65 L226,191.71 L227,192.77 L228,193.84 L229,194.90 L230,195.97 L231,197.04 L232,198.09 L233,199.15 L234,200.20 L235,201.26 L236,202.31 L237,203.35 L238,204.39 L239,205.42 L240,206.44 L241,207.46 L242,208.48 L243,209.49 L244,210.51 L245,211.53 L246,212.55 L247,213.57 L248,214.58 L249,215.58 L250,216.56 L251,217.53 L252,218.49 L253,219.44 L254,220.38 L255,221.31 L256,222.23 L257,223.15 L258,224.07 L259,224.97 L260,225.87 L261,226.76 L262,227.64 L263,228.52 L264,229.40 L265,230.28 L266,231.15 L267,232.00 L268,232.84 L269,233.64 L270,234.42 L271,235.17 L272,235.89 L273,236.61 L274,237.30 L275,237.97 L276,238.62 L277,239.26 L278,239.87 L279,240.47 L280,241.05 L281,241.62 L282,242.17 L283,242.71 L284,243.22 L285,243.72 L286,244.19 L287,244.65 L288,245.11 L289,245.56 L290,245.99 L291,246.41 L292,246.80 L293,247.16 L294,247.49 L295,247.78 L296,248.05 L297,248.31 L298,248.56 L299,248.80 L300,249.03 L301,249.25 L302,249.46 L303,249.66 L304,249.85 L305,250.03 L306,250.20 L307,250.35 L308,250.50 L309,250.63 L310,250.76 L311,250.87 L312,250.99 L313,251.10 L314,251.21 L315,251.32 L316,251.42 L317,251.52 L318,251.61 L319,251.70 L320,251.78 L321,251.86 L322,251.92 L323,251.99 L324,252.04 L325,252.08 L326,252.12 L327,252.14"/><path d="M30,213.63 L31,214.05 L32,214.44 L33,214.78 L34,215.05 L35,215.25 L36,215.40 L37,215.54 L38,215.65 L39,215.72 L40,215.75 L41,215.68 L42,215.47 L43,215.16 L44,214.78 L45,214.35 L46,213.89 L47,213.45 L48,212.93 L49,212.29 L50,211.61 L51,210.97 L52,210.45 L53,210.00 L54,209.56 L55,209.21 L56,209.00 L57,208.92 L58,208.89 L59,208.90 L60,208.94 L61,209.00 L62,209.08 L63,209.17 L64,209.25 L65,209.33 L66,209.40 L67,209.49 L68,209.60 L69,209.72 L70,209.86 L71,210.00 L72,210.15 L73,210.31 L74,210.46 L75,210.61 L76,210.75 L77,210.89 L78,211.01 L79,211.11 L80,211.19 L81,211.27 L82,211.33 L83,211.40 L84,211.46 L85,211.52 L86,211.57 L87,211.62 L88,211.67 L89,211.73 L90,211.79 L91,211.87 L92,211.96 L93,212.05 L94,212.14 L95,212.26 L96,212.40 L97,212.56 L98,212.73 L99,212.90 L100,213.08 L101,213.26 L102,213.44 L103,213.59 L104,213.72 L105,213.82 L106,213.91 L107,213.98 L108,213.99 L109,213.97 L110,213.98 L111,214.04 L112,214.13 L113,214.25 L114,214.39 L115,214.56 L116,214.72 L117,214.84 L118,214.88 L119,214.84 L120,214.73 L121,214.53 L122,214.27 L123,213.91 L124,213.48 L125,213.03 L126,212.56 L127,212.04 L128,211.40 L129,210.59 L130,209.64 L131,208.63 L132,207.62 L133,206.60 L134,205.52 L135,204.37 L136,203.18 L137,201.97 L138,200.75 L139,199.53 L140,198.27 L141,196.97 L142,195.63 L143,194.24 L144,192.76 L145,191.16 L146,189.49 L147,187.78 L148,186.07 L149,184.39 L150,182.70 L151,180.92 L152,179.08 L153,177.24 L154,175.45 L155,173.77 L156,172.23 L157,170.90 L158,169.75 L159,168.72 L160,167.78 L161,166.91 L162,166.08 L163,165.26 L164,164.50 L165,163.82 L166,163.17 L167,162.53 L168,161.85 L169,161.13 L170,160.38 L171,159.60 L172,158.80 L173,158.01 L174,157.23 L175,156.49 L176,155.79 L177,155.13 L178,154.52 L179,153.95 L180,153.42 L181,152.94 L182,152.53 L183,152.16 L184,151.81 L185,151.50 L186,151.19 L186.5,151.03 L187,150.87 L187.5,150.70 L188,150.54 L188.5,150.42 L189,150.35 L189.5,150.32 L190,150.32 L190.5,150.38 L191,150.59 L191.5,150.94 L192,151.43 L192.5,151.95 L193,152.21 L193.5,152.55 L194,152.95 L194.5,153.41 L195,153.90 L195.5,154.41 L196,154.91 L196.5,155.41 L197,155.90 L197.5,156.38 L198,156.83 L198.5,157.28 L199,157.72 L199.5,158.16 L200,158.60 L200.5,159.03 L201,159.47 L201.5,159.91 L202,160.36 L202.5,160.83 L203,161.30 L203.5,161.80 L204,162.31 L204.5,162.83 L205,163.36 L205.5,163.89 L206,164.42 L206.5,164.94 L207,165.46 L207.5,165.99 L208,166.51 L208.5,167.04 L209,167.56 L209.5,168.08 L210,168.60 L210.5,169.12 L211,169.64 L211.5,170.17 L212,170.69 L212.5,171.22 L213,171.76 L213.5,172.29 L214,172.82 L214.5,173.36 L215,173.89 L216,174.97 L217,176.06 L218,177.17 L219,178.28 L220,179.38 L221,180.47 L222,181.57 L223,182.66 L224,183.75 L225,184.84 L226,185.93 L227,187.03 L228,188.15 L229,189.27 L230,190.39 L231,191.52 L232,192.65 L233,193.77 L234,194.90 L235,196.03 L236,197.15 L237,198.28 L238,199.40 L239,200.52 L240,201.63 L241,202.74 L242,203.85 L243,204.96 L244,206.07 L245,207.19 L246,208.30 L247,209.42 L248,210.53 L249,211.62 L250,212.71 L251,213.77 L252,214.83 L253,215.87 L254,216.91 L255,217.93 L256,218.95 L257,219.97 L258,220.98 L259,221.98 L260,222.97 L261,223.96 L262,224.93 L263,225.90 L264,226.87 L265,227.84 L266,228.80 L267,229.74 L268,230.66 L269,231.55 L270,232.41 L271,233.23 L272,234.04 L273,234.83 L274,235.59 L275,236.34 L276,237.06 L277,237.77 L278,238.45 L279,239.11 L280,239.75 L281,240.38 L282,241.00 L283,241.59 L284,242.16 L285,242.71 L286,243.24 L287,243.75 L288,244.25 L289,244.75 L290,245.23 L291,245.69 L292,246.13 L293,246.53 L294,246.90 L295,247.23 L296,247.52 L297,247.81 L298,248.09 L299,248.35 L300,248.61 L301,248.85 L302,249.08 L303,249.31 L304,249.52 L305,249.71 L306,249.90 L307,250.07 L308,250.23 L309,250.38 L310,250.52 L311,250.64 L312,250.77 L313,250.89 L314,251.01 L315,251.13 L316,251.24 L317,251.35 L318,251.46 L319,251.55 L320,251.64 L321,251.73 L322,251.80 L323,251.87 L324,251.93 L325,251.97 L326,252.01 L327,252.04"/><path d="M30,214.20 L31,214.62 L32,215.00 L33,215.33 L34,215.60 L35,215.80 L36,215.95 L37,216.09 L38,216.20 L39,216.27 L40,216.30 L41,216.23 L42,216.02 L43,215.71 L44,215.33 L45,214.90 L46,214.44 L47,214.00 L48,213.47 L49,212.82 L50,212.13 L51,211.50 L52,211.00 L53,210.59 L54,210.20 L55,209.91 L56,209.80 L57,209.84 L58,209.94 L59,210.09 L60,210.29 L61,210.51 L62,210.76 L63,211.01 L64,211.26 L65,211.50 L66,211.74 L67,212.00 L68,212.27 L69,212.56 L70,212.87 L71,213.18 L72,213.49 L73,213.81 L74,214.13 L75,214.45 L76,214.75 L77,215.05 L78,215.33 L79,215.60 L80,215.85 L81,216.09 L82,216.32 L83,216.55 L84,216.77 L85,216.99 L86,217.20 L87,217.41 L88,217.62 L89,217.83 L90,218.03 L91,218.23 L92,218.43 L93,218.63 L94,218.84 L95,219.04 L96,219.24 L97,219.45 L98,219.66 L99,219.88 L100,220.10 L101,220.33 L102,220.56 L103,220.80 L104,221.04 L105,221.28 L106,221.52 L107,221.75 L108,221.98 L109,222.19 L110,222.40 L111,222.61 L112,222.84 L113,223.07 L114,223.31 L115,223.53 L116,223.74 L117,223.93 L118,224.09 L119,224.21 L120,224.28 L121,224.30 L122,224.29 L123,224.26 L124,224.22 L125,224.16 L126,224.08 L127,224.00 L128,223.79 L129,223.37 L130,222.82 L131,222.21 L132,221.60 L133,220.97 L134,220.27 L135,219.50 L136,218.68 L137,217.83 L138,216.93 L139,215.99 L140,214.98 L141,213.90 L142,212.74 L143,211.48 L144,210.04 L145,208.46 L146,206.77 L147,205.02 L148,203.25 L149,201.50 L150,199.71 L151,197.80 L152,195.84 L153,193.87 L154,191.95 L155,190.13 L156,188.46 L157,187.00 L158,185.72 L159,184.56 L160,183.47 L161,182.45 L162,181.47 L163,180.50 L164,179.57 L165,178.70 L166,177.85 L167,176.99 L168,176.09 L169,175.11 L170,174.07 L171,173.00 L172,171.91 L173,170.80 L174,169.69 L175,168.60 L176,167.52 L177,166.43 L178,165.35 L179,164.27 L180,163.20 L181,162.14 L182,161.10 L183,160.06 L184,159.02 L185,158.00 L186,156.94 L186.5,156.40 L187,155.87 L187.5,155.35 L188,154.86 L188.5,154.41 L189,154.00 L189.5,153.60 L190,153.18 L190.5,152.78 L191,152.42 L191.5,152.13 L192,151.95 L192.5,151.90 L193,151.95 L193.5,152.06 L194,152.21 L194.5,152.40 L195,152.60 L195.5,152.80 L196,153.00 L196.5,153.19 L197,153.40 L197.5,153.63 L198,153.87 L198.5,154.12 L199,154.37 L199.5,154.63 L200,154.90 L200.5,155.17 L201,155.45 L201.5,155.75 L202,156.04 L202.5,156.35 L203,156.67 L203.5,156.99 L204,157.32 L204.5,157.66 L205,158.00 L205.5,158.35 L206,158.71 L206.5,159.09 L207,159.47 L207.5,159.86 L208,160.26 L208.5,160.66 L209,161.07 L209.5,161.48 L210,161.90 L210.5,162.32 L211,162.75 L211.5,163.18 L212,163.62 L212.5,164.07 L213,164.52 L213.5,164.98 L214,165.45 L214.5,165.92 L215,166.40 L216,167.39 L217,168.41 L218,169.46 L219,170.53 L220,171.60 L221,172.68 L222,173.78 L223,174.89 L224,176.01 L225,177.15 L226,178.30 L227,179.47 L228,180.65 L229,181.86 L230,183.07 L231,184.28 L232,185.50 L233,186.72 L234,187.95 L235,189.19 L236,190.43 L237,191.66 L238,192.90 L239,194.13 L240,195.37 L241,196.60 L242,197.83 L243,199.07 L244,200.30 L245,201.54 L246,202.78 L247,204.03 L248,205.26 L249,206.49 L250,207.70 L251,208.89 L252,210.07 L253,211.24 L254,212.40 L255,213.56 L256,214.70 L257,215.84 L258,216.97 L259,218.09 L260,219.21 L261,220.31 L262,221.40 L263,222.49 L264,223.58 L265,224.67 L266,225.74 L267,226.80 L268,227.84 L269,228.84 L270,229.80 L271,230.73 L272,231.64 L273,232.52 L274,233.39 L275,234.23 L276,235.04 L277,235.83 L278,236.60 L279,237.35 L280,238.07 L281,238.79 L282,239.48 L283,240.15 L284,240.79 L285,241.41 L286,242.00 L287,242.58 L288,243.15 L289,243.71 L290,244.25 L291,244.77 L292,245.26 L293,245.72 L294,246.13 L295,246.50 L296,246.83 L297,247.16 L298,247.47 L299,247.77 L300,248.06 L301,248.33 L302,248.59 L303,248.84 L304,249.08 L305,249.30 L306,249.51 L307,249.70 L308,249.88 L309,250.05 L310,250.20 L311,250.34 L312,250.48 L313,250.62 L314,250.76 L315,250.89 L316,251.02 L317,251.14 L318,251.25 L319,251.36 L320,251.46 L321,251.56 L322,251.64 L323,251.71 L324,251.78 L325,251.83 L326,251.87 L327,251.90"/>
</g>
<g stroke="#000" stroke-width="1.1">
<line x1="123.4" y1="55.9" x2="141.9" y2="67.6"/><line x1="109.1" y1="72.6" x2="139.1" y2="93"/><line x1="99.2" y1="90.9" x2="136.4" y2="114.4"/><line x1="89.6" y1="108.6" x2="133.2" y2="135.9"/><line x1="79.4" y1="127.1" x2="129.6" y2="160.2"/><line x1="70.9" y1="143.2" x2="125.8" y2="179.2"/><line x1="71.5" y1="162.1" x2="123.5" y2="195.8"/><line x1="131.3" y1="194.5" x2="148.8" y2="206.5"/><line x1="128.7" y1="210.8" x2="146" y2="223.9"/><line x1="120.8" y1="224.1" x2="138.7" y2="237.6"/>
</g>
<g stroke="#000" stroke-width="1.2" fill="none">
<path d="M30.55,1.4 V254.3 H327.5 V1.4" stroke-width="1.1"/><path d="M30,1.35 H328" stroke="#2a2a2a" stroke-width="1.05"/>
<line x1="30.5" y1="254" x2="30.5" y2="260.6"/><line x1="104.6" y1="254" x2="104.6" y2="260.6"/><line x1="179" y1="254" x2="179" y2="260.6"/><line x1="253" y1="254" x2="253" y2="260.6"/><line x1="327.5" y1="254" x2="327.5" y2="260.6"/>
</g>
<g font-size="13.3">
<text x="121.8" y="57.5" text-anchor="end">1.35</text><text x="106.5" y="74.7" text-anchor="end">0.60</text><text x="96.7" y="91.4" text-anchor="end">0.35</text><text x="87.4" y="109.0" text-anchor="end">0.23</text><text x="76.2" y="127.5" text-anchor="end">0.15</text><text x="66.2" y="143.1" text-anchor="end">0.10</text><text x="68.5" y="162.5" text-anchor="end">0.065</text><text x="153.5" y="213.7">0.038</text><text x="149.1" y="231.4">0.017</text><text x="141.6" y="244.3">0</text>
<text x="30.5" y="275.8" text-anchor="middle">250</text><text x="104.6" y="275.8" text-anchor="middle">300</text><text x="179" y="275.8" text-anchor="middle">350</text><text x="253" y="275.8" text-anchor="middle">400</text><text x="327.5" y="275.8" text-anchor="middle">450</text>
<text x="108.2" y="34.5"><tspan textLength="96" lengthAdjust="spacingAndGlyphs">39.8 µM free Ca</tspan><tspan font-size="7.8" dy="-5.2" dx="0.6">2+</tspan></text>
<text x="235.8" y="23.4" textLength="79.4" lengthAdjust="spacingAndGlyphs">Em = 510 nm</text>
</g>
<text x="180.4" y="299.2" font-size="17.4" text-anchor="middle">Wavelength (nm)</text>
<text transform="translate(15.1,126.8) rotate(-90)" font-size="17.4" text-anchor="middle">Fluorescence excitation</text>
</svg>
</body></html>
